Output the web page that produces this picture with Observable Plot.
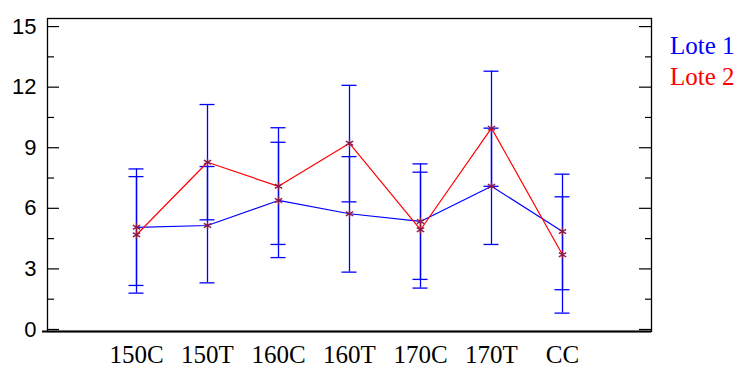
<!DOCTYPE html>
<html>
<head>
<meta charset="utf-8">
<script src="https://cdn.jsdelivr.net/npm/d3@7"></script>
<script src="https://cdn.jsdelivr.net/npm/@observablehq/plot@0.6"></script>
<style>
  html, body { margin: 0; padding: 0; background: #fff; }
  #wrap { position: relative; width: 741px; height: 367px; }
  .leg { position: absolute; left: 670px; font-family: "Liberation Serif", "Times New Roman", serif; font-size: 25px; line-height: 1; }
</style>
</head>
<body>
<div id="wrap"></div>
<script>
const categories = ["150C", "150T", "160C", "160T", "170C", "170T", "CC"];
const seriesNames = ["Lote 1", "Lote 2"];
const lote1Mean = [5.06, 5.15, 6.39, 5.73, 5.35, 7.09, 4.85];
const lote1Low  = [2.18, 2.31, 3.56, 2.84, 2.48, 4.21, 1.97];
const lote1High = [7.95, 8.07, 9.27, 8.56, 8.20, 9.97, 7.69];
const lote2Mean = [4.69, 8.28, 7.09, 9.22, 4.94, 9.97, 3.70];
const lote2Low  = [1.80, 5.43, 4.21, 6.32, 2.05, 7.09, 0.81];
const lote2High = [7.57, 11.14, 9.99, 12.09, 7.79, 12.79, 6.57];
const majorTicks = [0, 3, 6, 9, 12, 15];
const minorTicks = [1.5, 4.5, 7.5, 10.5, 13.5];

const rows = [];
categories.forEach((c, i) => {
  rows.push({cat: c, series: seriesNames[0], mean: lote1Mean[i], lo: lote1Low[i], hi: lote1High[i]});
  rows.push({cat: c, series: seriesNames[1], mean: lote2Mean[i], lo: lote2Low[i], hi: lote2High[i]});
});
const s1 = rows.filter(d => d.series === seriesNames[0]);
const s2 = rows.filter(d => d.series === seriesNames[1]);

const W = 741, H = 367, ML = 47, MR = 90, MT = 18, MB = 36;
const innerW = W - ML - MR;
const serif = "'Liberation Serif', 'Times New Roman', serif";
const sans = "'Liberation Sans', Arial, sans-serif";

const chart = Plot.plot({
  width: W,
  height: H,
  marginLeft: ML,
  marginRight: MR,
  marginTop: MT,
  marginBottom: MB,
  x: {type: "point", domain: categories, padding: 1.25, label: null},
  y: {domain: [-0.1, 15.4], label: null},
  marks: [
    // error bars
    Plot.ruleX(rows, {x: "cat", y1: "lo", y2: "hi", stroke: "#0000ff", strokeWidth: 1.3}),
    Plot.ruleY(rows, {x1: "cat", x2: "cat", y: "lo", stroke: "#0000ff", strokeWidth: 1.3, insetLeft: -7.5, insetRight: -7.5}),
    Plot.ruleY(rows, {x1: "cat", x2: "cat", y: "hi", stroke: "#0000ff", strokeWidth: 1.3, insetLeft: -7.5, insetRight: -7.5}),
    // lines
    Plot.line(s1, {x: "cat", y: "mean", stroke: "#0000ff", strokeWidth: 1.2}),
    Plot.line(s2, {x: "cat", y: "mean", stroke: "#ff0000", strokeWidth: 1.2}),
    // markers
    Plot.dot(rows, {x: "cat", y: "mean", symbol: "asterisk", r: 4, stroke: "#8b1a4a", strokeWidth: 1.3}),
    // ticks left (inward)
    Plot.ruleY(majorTicks, {stroke: "black", strokeWidth: 1.2, insetRight: innerW - 12}),
    Plot.ruleY(minorTicks, {stroke: "black", strokeWidth: 1.2, insetRight: innerW - 7}),
    // ticks right (inward)
    Plot.ruleY(majorTicks, {stroke: "black", strokeWidth: 1.2, insetLeft: innerW - 12}),
    Plot.ruleY(minorTicks, {stroke: "black", strokeWidth: 1.2, insetLeft: innerW - 6}),
    Plot.frame({stroke: "black", strokeWidth: 1.3}),
    Plot.ruleY([-0.1], {stroke: "black", strokeWidth: 2, insetLeft: -5}),
    Plot.axisY({ticks: majorTicks, tickSize: 0, tickPadding: 11, fontSize: 22, fontFamily: sans, fill: "black", label: null}),
    Plot.axisX({tickSize: 0, tickPadding: 14, fontSize: 25, fontFamily: serif, fill: "black", label: null})
  ],
  style: {background: "white", color: "black", overflow: "visible"}
});

const wrap = document.getElementById("wrap");
wrap.appendChild(chart);
const legColors = ["#0000ff", "#ff0000"];
const legTops = [33, 64];
seriesNames.forEach((n, i) => {
  const d = document.createElement("div");
  d.className = "leg";
  d.textContent = n;
  d.style.color = legColors[i];
  d.style.top = legTops[i] + "px";
  wrap.appendChild(d);
});
</script>
</body>
</html>
